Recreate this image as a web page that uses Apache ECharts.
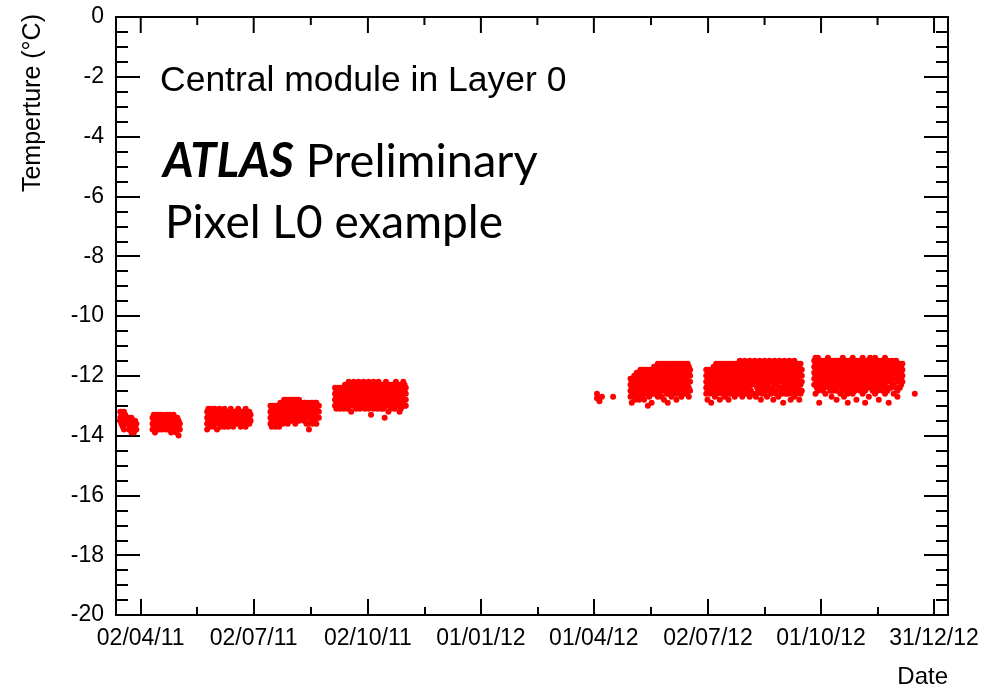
<!DOCTYPE html>
<html>
<head>
<meta charset="utf-8">
<script src="https://cdn.jsdelivr.net/npm/echarts@6/dist/echarts.min.js"></script>
<style>
  html, body { margin: 0; padding: 0; background: #fff; }
  #chart { width: 998px; height: 687px; }
</style>
</head>
<body>
<div id="chart"></div>
<script>
// Date axis: tick dates and the labels printed under them
const tickDates  = ['2011-04-02', '2011-07-02', '2011-10-02', '2012-01-01', '2012-04-01', '2012-07-02', '2012-10-01', '2012-12-31'];
const tickLabels = ['02/04/11', '02/07/11', '02/10/11', '01/01/12', '01/04/12', '02/07/12', '01/10/12', '31/12/12'];

// Temperature readings (°C), one list per day, starting at each block's first day
const march2011Start = '2011-03-16';
const march2011 = [
  [-13.2,-13.4,-13.5],[-13.2,-13.3,-13.6],[-13.3,-13.5,-13.7],[-13.2,-13.4,-13.6,-13.8],
  [-13.3,-13.5,-13.6],[-13.4,-13.6],[-13.5],[-13.4,-13.6,-13.8],[-13.5,-13.7,-13.6],
  [-13.4,-13.6,-13.9],[-13.5,-13.7,-13.8],[-13.6,-13.8,-13.9],[-13.5,-13.7],[-13.6,-13.8]
];

const april2011Start = '2011-04-11';
const april2011 = [
  [-13.4,-13.6,-13.8],[-13.3,-13.5,-13.7],[-13.4,-13.6,-13.9],[-13.3,-13.5,-13.7],
  [-13.4,-13.6,-13.8],[-13.3,-13.5,-13.6],[-13.4,-13.7,-13.8],[-13.3,-13.5,-13.6],
  [-13.4,-13.6,-13.8],[-13.5,-13.7],[-13.3,-13.5,-13.7],[-13.4,-13.6,-13.8],
  [-13.3,-13.6,-13.7],[-13.4,-13.5,-13.8],[-13.3,-13.5,-13.7],[-13.4,-13.6,-13.9],
  [-13.4,-13.6,-13.7],[-13.3,-13.5,-13.8],[-13.4,-13.6,-13.8],[-13.5,-13.7,-13.9],
  [-13.4,-13.6,-13.8],[-13.5,-13.7,-14.0],[-13.6,-13.8]
];

const june2011Start = '2011-05-25';
const june2011 = [
  [-13.2,-13.4,-13.6,-13.8],[-13.1,-13.3,-13.5],[-13.2,-13.4,-13.6,-13.7],[-13.1,-13.3,-13.5],
  [-13.2,-13.4,-13.6],[-13.2,-13.3,-13.5,-13.7],[-13.1,-13.4,-13.6],[-13.2,-13.4,-13.5],
  [-13.3,-13.5,-13.8],[-13.2,-13.4,-13.6],[-13.1,-13.3,-13.5],[-13.2,-13.4,-13.7],
  [-13.3,-13.5,-13.6],[-13.2,-13.4,-13.6],[-13.1,-13.3,-13.5,-13.7],[-13.2,-13.4,-13.6],
  [-13.2,-13.5,-13.6],[-13.3,-13.4,-13.7],[-13.2,-13.4,-13.5],[-13.1,-13.3,-13.6],
  [-13.2,-13.4,-13.6],[-13.3,-13.5,-13.7],[-13.2,-13.4],[],
  [-13.3,-13.5,-13.6],[-13.1,-13.3,-13.5],[-13.2,-13.4,-13.6],[-13.3,-13.5,-13.7],
  [-13.2,-13.4,-13.6],[-13.2,-13.3,-13.5],[-13.4,-13.6],[-13.1,-13.3,-13.5,-13.7],
  [-13.2,-13.4,-13.6],[-13.3,-13.5],[-13.2,-13.4,-13.6],[-13.3,-13.5]
];

const august2011Start = '2011-07-15';
const august2011 = [
  [-13.0,-13.2,-13.4,-13.6],[-13.1,-13.3,-13.5,-13.7],[-13.0,-13.2,-13.4,-13.6],[-13.1,-13.3,-13.5],
  [-13.0,-13.2,-13.4,-13.7],[-13.1,-13.3,-13.5,-13.6],[-13.0,-13.2,-13.4],[-13.0,-13.3,-13.5,-13.7],
  [-12.9,-13.1,-13.3,-13.5],[-13.0,-13.2,-13.4],[-12.9,-13.1,-13.3,-13.6],[-12.8,-13.0,-13.2,-13.4],
  [-12.9,-13.1,-13.3,-13.5],[-12.8,-13.0,-13.2,-13.4],[-12.9,-13.1,-13.4,-13.6],[-12.8,-13.0,-13.2,-13.4],
  [-12.9,-13.1,-13.3,-13.5],[-12.8,-13.0,-13.2],[-12.9,-13.1,-13.3,-13.5],[-12.8,-13.0,-13.2,-13.4],
  [-12.9,-13.1,-13.4,-13.6],[-12.8,-13.0,-13.2,-13.4],[-12.9,-13.1,-13.3],[-12.8,-13.0,-13.2,-13.5],
  [-12.9,-13.1,-13.3,-13.4],[-13.0,-13.2,-13.4],[],[-12.9,-13.1,-13.3,-13.5],
  [-12.9,-13.0,-13.2,-13.4],[-13.0,-13.2,-13.4,-13.6],[-12.9,-13.1,-13.3],[-13.0,-13.2,-13.4,-13.6,-13.8],
  [],[-12.9,-13.1,-13.3,-13.5],[-12.9,-13.0,-13.2,-13.4,-13.6],[],
  [-12.9,-13.1,-13.3,-13.5],[-12.9,-13.1,-13.2,-13.4,-13.6],[],[-13.0,-13.2,-13.4]
];

const october2011Start = '2011-09-05';
const october2011 = [
  [-12.4,-12.6,-12.8,-13.0],[-12.5,-12.7,-12.9,-13.1],[-12.4,-12.6,-12.8,-13.0],[-12.5,-12.7,-12.9],
  [-12.4,-12.6,-12.8,-13.1],[-12.5,-12.7,-12.9,-13.0],[-12.4,-12.6,-12.8],[-12.4,-12.6,-12.9,-13.1],
  [-12.3,-12.5,-12.7,-12.9],[-12.4,-12.6,-12.8,-13.0],[-12.3,-12.5,-12.7,-12.9,-13.1],[-12.2,-12.4,-12.6,-12.8,-13.0],
  [-12.3,-12.5,-12.7,-12.9],[-12.4,-12.6,-12.8,-13.0,-13.2],[-12.3,-12.5,-12.7,-12.9],[-12.2,-12.4,-12.6,-12.8,-13.0],
  [-12.3,-12.5,-12.7,-13.0],[-12.4,-12.6,-12.8,-13.1],[-12.3,-12.5,-12.7,-12.9],[-12.2,-12.4,-12.6,-12.8,-13.0],
  [-12.3,-12.5,-12.8,-13.1],[-12.4,-12.6,-12.8,-12.9],[-12.3,-12.5,-12.7,-13.0],[-12.2,-12.4,-12.6,-12.8,-13.0],
  [-12.3,-12.5,-12.7,-12.9,-13.1],[-12.4,-12.6,-12.8,-13.0],[-12.3,-12.5,-12.7,-12.9],[-12.2,-12.4,-12.6,-12.9,-13.1],
  [-12.3,-12.5,-12.7,-13.0],[-12.4,-12.6,-12.8,-13.0,-13.3],[-12.3,-12.5,-12.7,-12.9],[-12.2,-12.4,-12.6,-12.8,-13.1],
  [-12.3,-12.5,-12.7,-13.0],[-12.4,-12.6,-12.8,-13.0],[-12.3,-12.5,-12.7,-12.9,-13.1],[-12.2,-12.4,-12.6,-12.8,-13.0],
  [-12.3,-12.5,-12.8,-13.0],[-12.4,-12.6,-12.8,-13.1],[-12.3,-12.5,-12.7,-12.9],[-12.4,-12.6,-12.9,-13.1],
  [-12.3,-12.5,-12.7,-13.0,-13.4],[-12.2,-12.4,-12.6,-12.8,-13.0],[-12.3,-12.5,-12.7,-12.9],[-12.4,-12.6,-12.8,-13.0,-13.2],
  [-12.3,-12.5,-12.7,-12.9],[-12.4,-12.6,-12.8,-13.1],[-12.3,-12.5,-12.7,-13.0],[],
  [-12.3,-12.5,-12.7,-12.9,-13.1],[-12.2,-12.4,-12.6,-12.8,-13.0],[-12.4,-12.6,-12.8,-13.0],[],
  [-12.3,-12.5,-12.7,-12.9,-13.2],[-12.4,-12.6,-12.8,-13.1],[-12.3,-12.5,-12.7,-13.0],[-12.2,-12.4,-12.6,-12.9],
  [-12.3,-12.5,-12.8,-13.0],[-12.4,-12.6,-12.8,-13.0]
];

const april2012Start = '2012-04-03';
const april2012 = [
  [-12.6,-12.75],[],[-12.85],[],[-12.7],[],[],[],[],[],[],[],[],[-12.7]
];

const may2012Start = '2012-04-30';
const may2012 = [
  [-12.1,-12.3,-12.5,-12.7],[-12.2,-12.4,-12.6,-12.9],[-12.1,-12.3,-12.5,-12.7],[-12.0,-12.2,-12.4,-12.6],
  [-12.1,-12.3,-12.5,-12.8],[-11.9,-12.1,-12.3,-12.5,-12.7],[-12.0,-12.2,-12.4,-12.6],[-11.9,-12.1,-12.3,-12.6,-12.8],
  [-11.8,-12.0,-12.2,-12.4,-12.6],[-11.9,-12.1,-12.3,-12.5,-12.7],[-11.8,-12.0,-12.2,-12.4],[-11.9,-12.1,-12.3,-12.5,-12.8],
  [-11.8,-12.0,-12.2,-12.4,-12.6],[-11.9,-12.1,-12.3,-12.6],[-11.8,-12.0,-12.2,-12.5,-13.0],[-11.9,-12.1,-12.3,-12.5,-12.7],
  [-11.8,-12.0,-12.2,-12.4],[-11.9,-12.1,-12.4,-12.6,-12.9],[-11.8,-12.0,-12.2,-12.4,-12.6],[-11.7,-11.9,-12.1,-12.3,-12.5],
  [-11.8,-12.0,-12.3,-12.6],[-11.7,-11.9,-12.1,-12.3,-12.5],[-11.6,-11.8,-12.0,-12.2,-12.4,-12.7],[-11.7,-11.9,-12.1,-12.3,-12.6],
  [-11.6,-11.8,-12.0,-12.2,-12.5],[-11.7,-11.9,-12.1,-12.4,-12.7],[-11.6,-11.8,-12.0,-12.3,-12.5],[-11.7,-11.9,-12.2,-12.4,-12.8],
  [-11.6,-11.8,-12.0,-12.2,-12.4],[-11.7,-11.9,-12.1,-12.3,-12.6],[-11.6,-11.8,-12.0,-12.2,-12.5,-12.9],[-11.7,-11.9,-12.1,-12.4,-12.6],
  [-11.6,-11.8,-12.0,-12.3,-12.5],[-11.7,-11.9,-12.1,-12.3,-12.7],[-11.6,-11.8,-12.0,-12.2,-12.4],[-11.7,-11.9,-12.2,-12.4,-12.6],
  [-11.6,-11.8,-12.0,-12.3,-12.5],[-11.7,-11.9,-12.1,-12.3,-12.6,-12.8],[-11.6,-11.8,-12.0,-12.2,-12.4],[-11.7,-11.9,-12.1,-12.4,-12.6],
  [-11.6,-11.8,-12.0,-12.2,-12.5],[-11.7,-11.9,-12.1,-12.3,-12.7],[-11.6,-11.8,-12.0,-12.2,-12.4],[-11.7,-11.9,-12.1,-12.4,-12.6],
  [-11.6,-11.8,-12.1,-12.3,-12.5],[-11.7,-11.9,-12.1,-12.3,-12.6],[-11.6,-11.8,-12.0,-12.2,-12.5],[-11.7,-11.9,-12.2,-12.4,-12.7],
  [-11.8,-12.0,-12.2,-12.5]
];

const august2012Start = '2012-06-30';
const august2012 = [
  [-11.8,-12.0,-12.2,-12.4,-12.6],[-11.9,-12.1,-12.3,-12.5,-12.8],[-11.8,-12.0,-12.3,-12.5],[-11.9,-12.1,-12.2,-12.4,-12.6],
  [-11.8,-12.0,-12.2,-12.5,-12.9],[-11.9,-12.1,-12.3,-12.5],[-11.7,-11.9,-12.1,-12.3,-12.6],[-11.8,-12.0,-12.2,-12.4,-12.7],
  [-11.6,-11.8,-12.0,-12.2,-12.4],[-11.7,-11.9,-12.1,-12.4,-12.6],[-11.6,-11.8,-12.0,-12.3,-12.5],[-11.7,-11.9,-12.2,-12.4,-12.8],
  [-11.6,-11.8,-12.0,-12.2,-12.5],[-11.7,-11.9,-12.1,-12.3,-12.6],[-11.6,-11.8,-12.0,-12.2,-12.4],[-11.7,-11.9,-12.1,-12.4,-12.7],
  [-11.6,-11.8,-12.0,-12.3,-12.5],[-11.7,-11.9,-12.1,-12.3,-12.6],[-11.6,-11.8,-12.0,-12.2,-12.4,-12.8],[-11.7,-11.9,-12.1,-12.4,-12.6],
  [-11.6,-11.8,-12.0,-12.2,-12.5],[-11.7,-11.9,-12.2,-12.4,-12.6],[-11.6,-11.8,-12.0,-12.3,-12.5],[-11.7,-11.9,-12.1,-12.3,-12.7],
  [-11.6,-11.8,-12.0,-12.2,-12.4],[-11.7,-11.9,-12.1,-12.4,-12.6],[-11.6,-11.8,-12.0,-12.2,-12.5],[-11.5,-11.7,-11.9,-12.1,-12.3,-12.6],
  [-11.6,-11.8,-12.0,-12.3,-12.5],[-11.7,-11.9,-12.1,-12.3,-12.7],[-11.6,-11.8,-12.0,-12.2,-12.4],[-11.5,-11.7,-11.9,-12.1,-12.4,-12.6],
  [-11.6,-11.8,-12.0,-12.2,-12.5],[-11.7,-11.9,-12.1,-12.3,-12.6],[-11.6,-11.8,-12.0,-12.2,-12.4],[-11.5,-11.7,-11.9,-12.1,-12.3,-12.7],
  [-11.6,-11.8,-12.0,-12.2,-12.5],[-11.7,-11.9,-12.1,-12.3],[-11.6,-11.8,-12.0,-12.2,-12.6],[-11.5,-11.7,-11.9,-12.1],
  [-11.6,-11.8,-12.0,-12.2,-12.7],[-11.7,-11.9,-12.1,-12.4,-12.6],[-11.6,-11.8,-12.0,-12.3,-12.5],[-11.5,-11.7,-11.9,-12.1,-12.4],
  [-11.6,-11.8,-12.0,-12.2,-12.5,-12.8],[-11.7,-11.9,-12.1,-12.3,-12.6],[-11.6,-11.8,-12.0,-12.2,-12.4],[-11.5,-11.7,-11.9,-12.1,-12.3,-12.6],
  [-11.6,-11.8,-12.0,-12.3,-12.5],[-11.7,-11.9,-12.1,-12.3,-12.7],[-11.6,-11.8,-12.0,-12.2,-12.4],[-11.5,-11.7,-11.9,-12.2,-12.5],
  [-11.6,-11.8,-12.0,-12.2,-12.6],[-11.7,-11.9,-12.1,-12.4],[-11.6,-11.8,-12.0,-12.2,-12.5,-12.8],[-11.5,-11.7,-11.9,-12.1,-12.3],
  [-11.6,-11.8,-12.0,-12.3,-12.6],[-11.7,-11.9,-12.1,-12.3,-12.5],[-11.6,-11.8,-12.0,-12.2,-12.7],[-11.5,-11.7,-11.9,-12.1,-12.4],
  [-11.6,-11.8,-12.0,-12.2,-12.5],[-11.7,-11.9,-12.1,-12.4,-12.6],[-11.6,-11.8,-12.0,-12.2,-12.4,-12.9],[-11.5,-11.7,-11.9,-12.1,-12.3],
  [-11.6,-11.8,-12.0,-12.3,-12.6],[-11.7,-11.9,-12.1,-12.3,-12.5],[-11.6,-11.8,-12.0,-12.2,-12.6],[-11.5,-11.7,-11.9,-12.2,-12.4],
  [-11.6,-11.8,-12.0,-12.2,-12.5,-12.8],[-11.7,-11.9,-12.1,-12.3,-12.6],[-11.6,-11.8,-12.0,-12.2,-12.4],[-11.5,-11.7,-11.9,-12.1,-12.4,-12.7],
  [-11.6,-11.8,-12.0,-12.3,-12.5],[-11.7,-11.9,-12.1,-12.3,-12.6],[-11.6,-11.8,-12.0,-12.2,-12.4],[-11.7,-11.9,-12.2,-12.5,-12.8],
  [-11.6,-11.8,-12.0,-12.3,-12.6],[-11.8,-12.0,-12.2,-12.5]
];

const november2012Start = '2012-09-25';
const november2012 = [
  [-11.5,-11.7,-11.9,-12.1,-12.3],[-11.4,-11.6,-11.8,-12.0,-12.3,-12.6],[-11.5,-11.7,-11.9,-12.2,-12.4],[-11.4,-11.6,-11.8,-12.0,-12.2,-12.5],
  [-11.5,-11.7,-11.9,-12.1,-12.4,-12.9],[-11.6,-11.8,-12.0,-12.2,-12.4],[-11.5,-11.7,-11.9,-12.1,-12.3],[-11.6,-11.8,-12.0,-12.3,-12.5],
  [-11.5,-11.7,-11.9,-12.1,-12.4],[-11.6,-11.8,-12.0,-12.2,-12.6],[-11.5,-11.7,-11.9,-12.1,-12.3],[-11.4,-11.6,-11.8,-12.0],
  [-11.5,-11.7,-12.0,-12.2,-12.4],[-11.6,-11.8,-12.0,-12.2,-12.5],[-11.5,-11.7,-11.9,-12.1,-12.3,-12.7],[-11.6,-11.8,-12.0,-12.3,-12.5],
  [-11.5,-11.7,-11.9,-12.1,-12.4],[-11.6,-11.8,-12.0,-12.2,-12.4],[-11.5,-11.7,-11.9,-12.2,-12.5,-12.8],[-11.6,-11.8,-12.0,-12.2,-12.4],
  [-11.5,-11.7,-11.9,-12.1,-12.3],[-11.6,-11.8,-12.1,-12.3,-12.6],[-11.5,-11.7,-11.9,-12.1,-12.4],[-11.4,-11.6,-11.8,-12.0,-12.2,-12.5],
  [-11.5,-11.7,-11.9,-12.2,-12.4,-12.7],[-11.6,-11.8,-12.0,-12.2,-12.5],[-11.5,-11.7,-11.9,-12.1,-12.3],[-11.6,-11.8,-12.0,-12.3,-12.6,-12.9],
  [-11.5,-11.7,-11.9,-12.1,-12.4],[-11.6,-11.8,-12.0,-12.2,-12.5],[-11.5,-11.7,-11.9,-12.1,-12.3],[-11.4,-11.6,-11.8,-12.0,-12.3,-12.6],
  [-11.5,-11.7,-11.9,-12.2,-12.4],[-11.6,-11.8,-12.0,-12.2,-12.5],[-11.5,-11.7,-11.9,-12.1,-12.4,-12.8],[-11.6,-11.8,-12.0,-12.2,-12.4],
  [-11.5,-11.7,-11.9,-12.1,-12.3],[-11.6,-11.8,-12.0,-12.3,-12.5],[-11.5,-11.7,-11.9,-12.1,-12.4],[-11.4,-11.6,-11.8,-12.0,-12.2,-12.6],
  [-11.5,-11.7,-11.9,-12.1,-12.3],[-11.6,-11.8,-12.0,-12.2,-12.5,-12.9],[-11.5,-11.7,-11.9,-12.2,-12.4],[-11.6,-11.8,-12.0,-12.2,-12.4],
  [-11.5,-11.7,-11.9,-12.1,-12.3,-12.7],[-11.4,-11.6,-11.8,-12.0,-12.3],[-11.5,-11.7,-11.9,-12.1,-12.4],[-11.6,-11.8,-12.0,-12.2,-12.5],
  [-11.5,-11.7,-11.9,-12.1,-12.3],[-11.4,-11.6,-11.8,-12.0,-12.2,-12.6],[-11.5,-11.7,-11.9,-12.2,-12.4],[-11.6,-11.8,-12.0,-12.2,-12.5],
  [-11.5,-11.7,-11.9,-12.1,-12.3,-12.8],[-11.6,-11.8,-12.0,-12.2,-12.4],[-11.5,-11.7,-11.9,-12.1,-12.4],[-11.6,-11.8,-12.0,-12.3,-12.5],
  [-11.5,-11.7,-11.9,-12.1,-12.3],[-11.4,-11.6,-11.8,-12.0,-12.2,-12.6],[-11.5,-11.7,-11.9,-12.2,-12.4],[-11.6,-11.8,-12.0,-12.2,-12.5],
  [-11.5,-11.7,-11.9,-12.1,-12.4,-12.9],[],[-11.6,-11.8,-12.0,-12.2,-12.4],[-11.5,-11.7,-11.9,-12.1,-12.3],
  [-11.6,-11.8,-12.0,-12.3,-12.6],[],[-11.5,-11.7,-11.9,-12.1,-12.4],[-11.6,-11.8,-12.0,-12.2,-12.5,-12.7],
  [],[-11.6,-11.8,-12.0,-12.2,-12.4],[-11.7,-11.9,-12.1,-12.3],[-11.6,-11.8,-12.0,-12.2]
];

const december2012Start = '2012-12-15';
const december2012 = [[-12.6]];

const DAY = 86400000;
function dayStart(s) {
  const p = s.split('-').map(Number);
  return Date.UTC(p[0], p[1] - 1, p[2]);
}

// Flatten the daily blocks into [time, temperature] pairs (readings placed at midday)
const blocks = [
  [march2011Start, march2011], [april2011Start, april2011], [june2011Start, june2011],
  [august2011Start, august2011], [october2011Start, october2011], [april2012Start, april2012],
  [may2012Start, may2012], [august2012Start, august2012], [november2012Start, november2012],
  [december2012Start, december2012]
];
const points = [];
blocks.forEach(([start, days]) => {
  const t0 = dayStart(start);
  days.forEach((vals, i) => {
    vals.forEach(v => points.push([t0 + i * DAY + DAY / 2, v]));
  });
});

const majorTicks = tickDates.map(dayStart);
const minorTicks = majorTicks.slice(1).map((t, i) => (t + majorTicks[i]) / 2);
const xMin = Date.UTC(2011, 2, 13, 2);
const xMax = Date.UTC(2013, 0, 11, 6);
const yMin = -20;
const yMax = 0;

const black = { color: '#000', width: 2 };
const font = 'Liberation Sans, Arial, sans-serif';

// Bottom date axes: major ticks with labels, minor ticks half-way between them
function xAxisDef(ticks, len, withLine, withLabels) {
  return {
    type: 'value', gridIndex: 0, position: 'bottom', min: xMin, max: xMax,
    splitLine: { show: false },
    axisLine: { show: withLine, onZero: false, lineStyle: black },
    axisTick: { show: true, inside: true, length: len, customValues: ticks, lineStyle: black },
    axisLabel: withLabels ? {
      show: true, customValues: ticks, margin: 12, fontSize: 23, fontFamily: font, color: '#000',
      formatter: v => tickLabels[majorTicks.indexOf(v)] || ''
    } : {
      show: true, customValues: ticks, margin: 0, fontSize: 1, color: 'rgba(0,0,0,0)',
      formatter: () => '.'
    }
  };
}

function yAxisDef(position, withLabels) {
  return {
    type: 'value', gridIndex: 0, position: position, min: yMin, max: yMax, interval: 2,
    splitLine: { show: false },
    axisLine: { show: true, onZero: false, lineStyle: black },
    axisTick: { show: true, inside: true, length: 24, lineStyle: black },
    minorTick: { show: true, splitNumber: 4, length: 12, lineStyle: black },
    axisLabel: withLabels ? { show: true, margin: 12, fontSize: 23, color: '#000', fontFamily: font } : { show: false }
  };
}

// Mirrored date ticks hanging down from the top edge of the frame, placed through the x scale
function topTickSeries(ticks, len) {
  return {
    type: 'custom', xAxisIndex: 0, yAxisIndex: 0, silent: true, clip: false, z: 5,
    data: ticks.map(t => [t, yMax]),
    encode: { x: 0, y: 1 },
    renderItem: (params, api) => {
      const p = api.coord([api.value(0), api.value(1)]);
      return {
        type: 'line',
        shape: { x1: p[0], y1: p[1], x2: p[0], y2: p[1] + len },
        style: { stroke: '#000', lineWidth: 2 }
      };
    }
  };
}

const chart = echarts.init(document.getElementById('chart'), null, { renderer: 'canvas' });
chart.setOption({
  animation: false,
  backgroundColor: '#fff',
  grid: {
    left: 116, right: 50, top: 17, bottom: 72, containLabel: false,
    show: true, borderColor: '#000', borderWidth: 2, backgroundColor: 'transparent'
  },
  xAxis: [
    xAxisDef(majorTicks, 16, true, true),
    xAxisDef(minorTicks, 8, false, false)
  ],
  yAxis: [yAxisDef('left', true), yAxisDef('right', false)],
  series: [
    {
      type: 'scatter', xAxisIndex: 0, yAxisIndex: 0,
      data: points, symbol: 'circle', symbolSize: 6,
      itemStyle: { color: '#ff0000', opacity: 1 },
      emphasis: { disabled: true }
    },
    topTickSeries(majorTicks, 16),
    topTickSeries(minorTicks, 8)
  ],
  graphic: [
    { type: 'text', x: 33, y: 14, rotation: Math.PI / 2,
      style: { text: 'Temperture (°C)', fontSize: 25, fontFamily: font, fill: '#000', align: 'right', verticalAlign: 'middle' } },
    { type: 'text', x: 948, y: 677,
      style: { text: 'Date', fontSize: 24, fontFamily: font, fill: '#000', align: 'right', verticalAlign: 'middle' } },
    { type: 'text', x: 160, y: 81,
      style: { text: 'Central module in Layer 0', fontSize: 35.5, fontFamily: font, fill: '#000', align: 'left', verticalAlign: 'middle' } },
    { type: 'text', x: 163, y: 162,
      style: { text: '{b|ATLAS} Preliminary', fontSize: 47, fontFamily: 'Lato, sans-serif', fill: '#000', align: 'left', verticalAlign: 'middle',
        rich: { b: { fontSize: 47, fontFamily: 'Lato, sans-serif', fontStyle: 'italic', fontWeight: 'bold', fill: '#000' } } } },
    { type: 'text', x: 165, y: 223,
      style: { text: 'Pixel L0 example', fontSize: 46, fontFamily: 'Lato, sans-serif', fill: '#000', align: 'left', verticalAlign: 'middle' } }
  ]
});
</script>
</body>
</html>
